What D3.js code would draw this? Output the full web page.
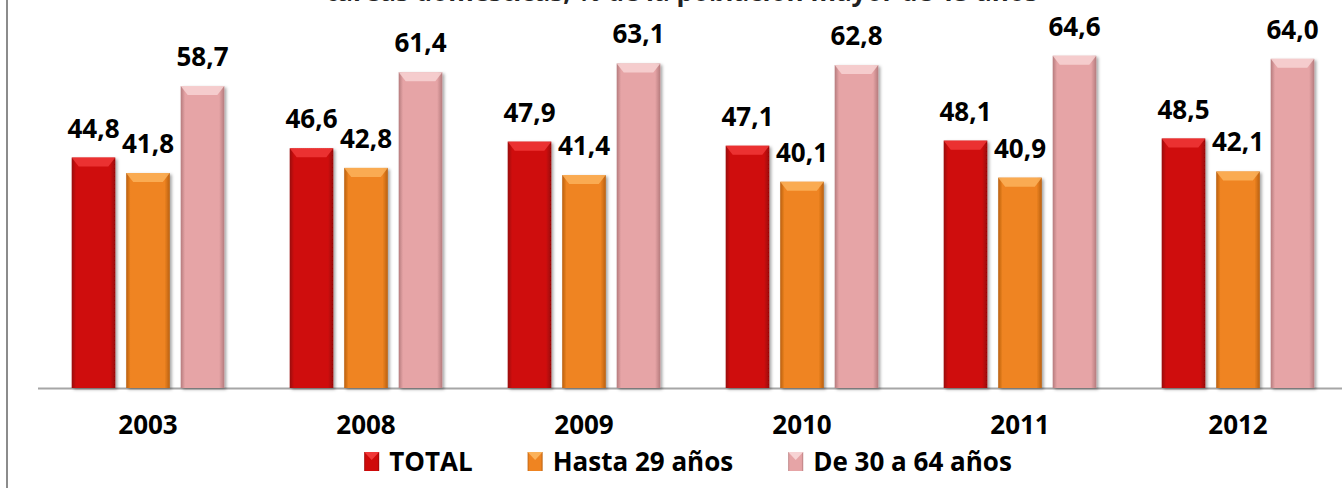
<!DOCTYPE html>
<html>
<head>
<meta charset="utf-8">
<script src="https://cdn.jsdelivr.net/npm/d3@7"></script>
<style>
  body { margin: 0; background: #fff; }
  svg { display: block; font-family: "Open Sans", Lato, sans-serif; }
</style>
</head>
<body>
<script>
// data
var years = ["2003", "2008", "2009", "2010", "2011", "2012"];
var seriesNames = ["TOTAL", "Hasta 29 años", "De 30 a 64 años"];
var total = [44.8, 46.6, 47.9, 47.1, 48.1, 48.5];
var hasta29 = [41.8, 42.8, 41.4, 40.1, 40.9, 42.1];
var de30a64 = [58.7, 61.4, 63.1, 62.8, 64.6, 64.0];
var titleText = "tareas domésticas, % de la población mayor de 15 años";

var series = [total, hasta29, de30a64];
var colors = [
  {main: "#cf0a0a", light: "#f03838", dark: "#980606"},
  {main: "#ef8421", light: "#fbb25a", dark: "#b9600f"},
  {main: "#e6a4a6", light: "#f7d3d4", dark: "#b57b7d"}
];

var width = 1342, height = 488;

var svg = d3.select("body").append("svg")
    .attr("width", width)
    .attr("height", height);

var defs = svg.append("defs");
defs.append("filter")
    .attr("id", "shadow")
    .attr("x", "-20%").attr("y", "-10%")
    .attr("width", "150%").attr("height", "130%")
  .append("feDropShadow")
    .attr("dx", 2).attr("dy", 1.5)
    .attr("stdDeviation", 1.5)
    .attr("flood-color", "#000")
    .attr("flood-opacity", 0.35);

// side shading for the bevelled bars
colors.forEach(function(c, i) {
  var g = defs.append("linearGradient")
      .attr("id", "grad" + i)
      .attr("x1", "0%").attr("x2", "100%").attr("y1", "0%").attr("y2", "0%");
  g.append("stop").attr("offset", "0%").attr("stop-color", c.dark);
  g.append("stop").attr("offset", "10%").attr("stop-color", c.main);
  g.append("stop").attr("offset", "88%").attr("stop-color", c.main);
  g.append("stop").attr("offset", "100%").attr("stop-color", c.dark);
});

// left frame line
svg.append("line")
    .attr("x1", 7).attr("x2", 7)
    .attr("y1", 0).attr("y2", height)
    .attr("stroke", "#8c8c8c")
    .attr("stroke-width", 2);

// title, cut off at the top as in the original
svg.append("text")
    .attr("x", 682)
    .attr("y", 1)
    .attr("text-anchor", "middle")
    .style("font-size", "26px")
    .style("font-weight", "bold")
    .style("fill", "#222")
    .text(titleText);

// scales
var x0 = d3.scaleBand()
    .domain(years)
    .range([39, 1347]);

var x1 = d3.scaleBand()
    .domain(d3.range(series.length))
    .range([0, 163.5])
    .paddingInner(0.2)
    .paddingOuter(0.1);

var y = d3.scaleLinear()
    .domain([0, 70])
    .range([388, 28]);

var fmt = function(v) { return d3.format(".1f")(v).replace(".", ","); };

// axis
var xAxis = d3.axisBottom(x0).tickSize(0).tickPadding(28);
var axisG = svg.append("g")
    .attr("transform", "translate(0," + y(0) + ")")
    .call(xAxis);
axisG.select(".domain")
    .attr("d", "M38,0.5H" + width)
    .attr("stroke", "#a6a6a6")
    .attr("stroke-width", 2);
axisG.selectAll(".tick text")
    .style("font-family", "'Open Sans', sans-serif")
    .style("font-size", "26px")
    .style("font-weight", "bold")
    .style("fill", "#000");

// bars
var groups = svg.selectAll(".year")
    .data(years)
    .enter().append("g")
      .attr("class", "year")
      .attr("transform", function(d) { return "translate(" + (x0(d) + x0.bandwidth() / 2 - 81.75) + ",0)"; });

var bars = groups.selectAll(".bar")
    .data(function(d, i) { return series.map(function(s, j) { return {s: j, v: s[i]}; }); })
    .enter().append("g")
      .attr("class", "bar");

bars.append("rect")
    .attr("x", function(d) { return x1(d.s); })
    .attr("y", function(d) { return y(d.v); })
    .attr("width", x1.bandwidth())
    .attr("height", function(d) { return y(0) - y(d.v); })
    .attr("fill", function(d) { return "url(#grad" + d.s + ")"; })
    .attr("filter", "url(#shadow)");

// lighter top bevel
bars.append("path")
    .attr("d", function(d) {
      var bx = x1(d.s), bw = x1.bandwidth(), by = y(d.v);
      return "M" + bx + "," + by + "H" + (bx + bw) + "L" + (bx + bw - 7) + "," + (by + 9) +
             "H" + (bx + 7) + "Z";
    })
    .attr("fill", function(d) { return colors[d.s].light; })
    .attr("opacity", 0.85);

bars.append("text")
    .attr("x", function(d) { return x1(d.s) + x1.bandwidth() / 2; })
    .attr("y", function(d) { return y(d.v) - 20; })
    .attr("text-anchor", "middle")
    .style("font-size", "26px")
    .style("font-weight", "bold")
    .text(function(d) { return fmt(d.v); });

// legend
var legend = svg.append("g").attr("class", "legend");
var lx = 0;
seriesNames.forEach(function(name, i) {
  var item = legend.append("g").attr("transform", "translate(" + lx + ",0)");
  item.append("rect")
      .attr("x", 0).attr("y", -19)
      .attr("width", 15).attr("height", 19)
      .attr("fill", "url(#grad" + i + ")");
  item.append("path")
      .attr("d", "M0,-19H15L7.5,-11Z")
      .attr("fill", colors[i].light);
  var t = item.append("text")
      .attr("x", 25)
      .attr("y", 0)
      .style("font-size", "26px")
      .style("font-weight", "bold")
      .text(name);
  lx += 25 + t.node().getComputedTextLength() + 55;
});
var lw = lx - 55;
legend.attr("transform", "translate(" + (688 - lw / 2) + ",471)");
</script>
</body>
</html>
